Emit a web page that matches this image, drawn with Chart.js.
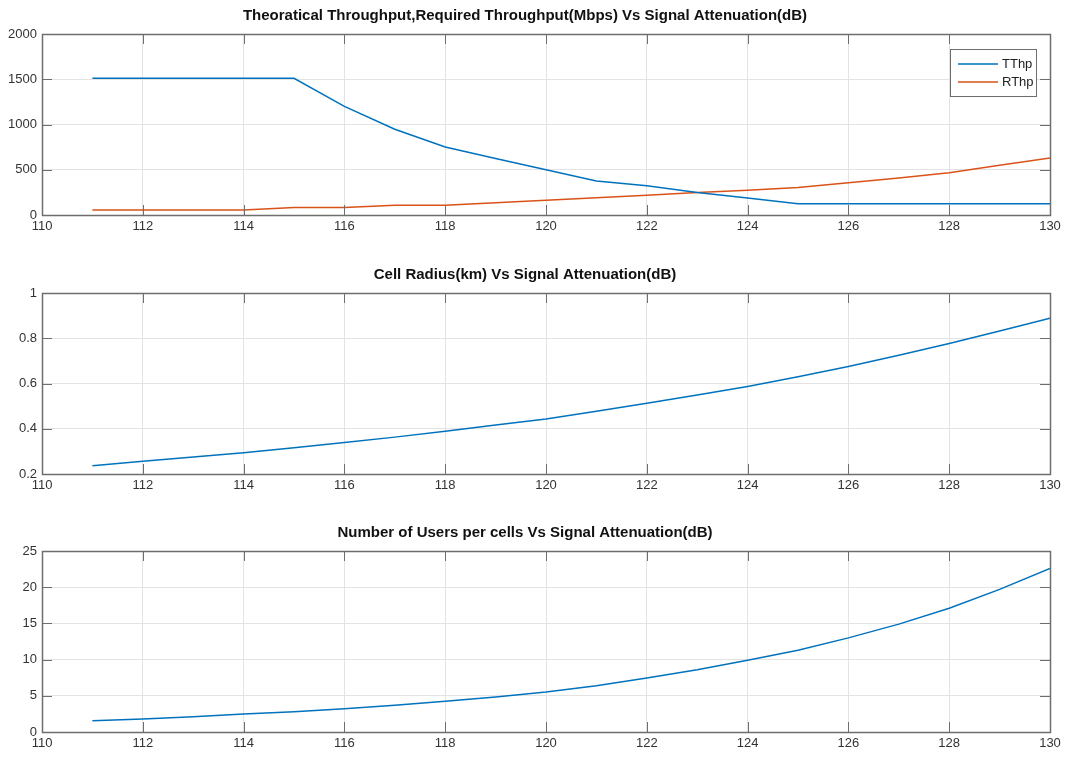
<!DOCTYPE html>
<html>
<head>
<meta charset="utf-8">
<script src="https://cdn.jsdelivr.net/npm/chart.js@4"></script>
<style>
  html, body { margin: 0; padding: 0; background: #fff; }
  body { width: 1068px; height: 760px; position: relative; overflow: hidden; }
  .panel { position: absolute; left: 0; width: 1068px; }
</style>
</head>
<body>
<div class="panel" style="top:-1px;height:258px"><canvas id="c1"></canvas></div>
<div class="panel" style="top:258px;height:258px"><canvas id="c2"></canvas></div>
<div class="panel" style="top:516px;height:244px"><canvas id="c3"></canvas></div>
<script>
const attenuation = [111, 112, 113, 114, 115, 116, 117, 118, 119, 120, 121, 122, 123, 124, 125, 126, 127, 128, 129, 130];
const tthp = [1510, 1510, 1510, 1510, 1510, 1200, 947, 751, 625, 500, 375, 322, 248, 189, 125, 125, 125, 125, 125, 125];
const rthp = [55, 55, 55, 55, 82, 82, 109, 109, 136, 164, 191, 219, 248, 273, 303, 357, 408, 467, 550, 630];
const cellRadius = [0.237, 0.256, 0.275, 0.294, 0.316, 0.339, 0.363, 0.389, 0.417, 0.443, 0.477, 0.513, 0.549, 0.587, 0.630, 0.675, 0.725, 0.777, 0.832, 0.889];
const users = [1.55, 1.79, 2.1, 2.47, 2.8, 3.2, 3.7, 4.26, 4.85, 5.54, 6.4, 7.46, 8.6, 9.9, 11.3, 13.0, 14.9, 17.1, 19.7, 22.6];

const titles = [
  "Theoratical Throughput,Required Throughput(Mbps) Vs Signal Attenuation(dB)",
  "Cell Radius(km) Vs Signal Attenuation(dB)",
  "Number of Users per cells Vs Signal Attenuation(dB)",
];

const BLUE = "#0072BD";
const ORANGE = "#D95319";
const AXIS = "#6e6e6e";
const GRID = "#e3e3e3";
const FONT = "'Liberation Sans', Arial, sans-serif";

const pts = (ys) => attenuation.map((x, i) => ({ x, y: ys[i] }));
const plain = (v) => String(+Number(v).toFixed(3));

// box frame + inward ticks on all four sides, like a MATLAB axes
const boxPlugin = {
  id: "box",
  afterDraw(chart) {
    const { ctx, chartArea: a, scales } = chart;
    const len = 10;
    ctx.save();
    ctx.strokeStyle = AXIS;
    ctx.lineWidth = 1;
    ctx.beginPath();
    scales.x.ticks.forEach((t) => {
      const px = Math.round(scales.x.getPixelForValue(t.value)) + 0.5;
      ctx.moveTo(px, a.top); ctx.lineTo(px, a.top + len);
      ctx.moveTo(px, a.bottom); ctx.lineTo(px, a.bottom - len);
    });
    scales.y.ticks.forEach((t) => {
      const py = Math.round(scales.y.getPixelForValue(t.value)) + 0.5;
      ctx.moveTo(a.left, py); ctx.lineTo(a.left + len, py);
      ctx.moveTo(a.right, py); ctx.lineTo(a.right - len, py);
    });
    ctx.stroke();
    ctx.lineWidth = 1.5;
    ctx.strokeRect(Math.round(a.left) + 0.5, Math.round(a.top) + 0.5, Math.round(a.right - a.left), Math.round(a.bottom - a.top));
    ctx.restore();
  },
};

// legend box in the upper-right corner of the plot area
const boxLegend = {
  id: "boxLegend",
  afterDraw(chart, args, opts) {
    if (!opts.show) return;
    const { ctx, chartArea: a } = chart;
    const x0 = a.right - 100, y0 = a.top + 15, w = 86, h = 47;
    ctx.save();
    ctx.fillStyle = "#fff";
    ctx.fillRect(x0, y0, w, h);
    ctx.strokeStyle = AXIS;
    ctx.lineWidth = 1;
    ctx.strokeRect(x0 + 0.5, y0 + 0.5, w, h);
    ctx.font = "13px " + FONT;
    ctx.textBaseline = "middle";
    chart.data.datasets.forEach((ds, i) => {
      const yy = y0 + 15 + i * 18;
      ctx.strokeStyle = ds.borderColor;
      ctx.lineWidth = 1.5;
      ctx.beginPath();
      ctx.moveTo(x0 + 8, yy); ctx.lineTo(x0 + 48, yy);
      ctx.stroke();
      ctx.fillStyle = "#222";
      ctx.fillText(ds.label, x0 + 52, yy);
    });
    ctx.restore();
  },
};

function makePanel(canvas, title, datasets, y, padBottom, legend) {
  return new Chart(canvas, {
    type: "line",
    data: { datasets },
    options: {
      responsive: true,
      maintainAspectRatio: false,
      animation: false,
      layout: { padding: { left: 0, right: 18, top: 0, bottom: padBottom } },
      elements: { point: { radius: 0 }, line: { borderWidth: 1.5, tension: 0 } },
      plugins: {
        legend: { display: false },
        tooltip: { enabled: false },
        boxLegend: { show: legend },
        title: {
          display: true,
          text: title,
          color: "#111",
          font: { family: FONT, size: 15, weight: "bold" },
          padding: { top: 8, bottom: 9 },
        },
      },
      scales: {
        x: {
          type: "linear",
          min: 110,
          max: 130,
          afterFit: (s) => { s.height = 28; },
          ticks: { stepSize: 2, color: "#333", padding: 4, callback: plain, font: { family: FONT, size: 13 } },
          grid: { color: GRID, drawTicks: false },
          border: { display: false },
        },
        y: {
          min: y.min,
          max: y.max,
          afterFit: (s) => { s.width = 42; },
          ticks: { stepSize: y.step, color: "#333", padding: 5, callback: plain, font: { family: FONT, size: 13 } },
          grid: { color: GRID, drawTicks: false },
          border: { display: false },
        },
      },
    },
    plugins: [boxPlugin, boxLegend],
  });
}

makePanel(document.getElementById("c1"), titles[0], [
  { label: "TThp", data: pts(tthp), borderColor: BLUE },
  { label: "RThp", data: pts(rthp), borderColor: ORANGE },
], { min: 0, max: 2000, step: 500 }, 14, true);

makePanel(document.getElementById("c2"), titles[1], [
  { label: "Cell Radius", data: pts(cellRadius), borderColor: BLUE },
], { min: 0.2, max: 1, step: 0.2 }, 14, false);

makePanel(document.getElementById("c3"), titles[2], [
  { label: "Users", data: pts(users), borderColor: BLUE },
], { min: 0, max: 25, step: 5 }, 0, false);
</script>
</body>
</html>
